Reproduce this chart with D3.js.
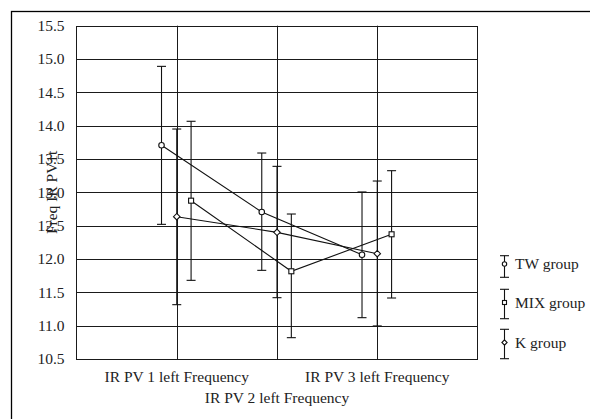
<!DOCTYPE html>
<html><head><meta charset="utf-8">
<script src="https://cdn.jsdelivr.net/npm/d3@7"></script>
<style>body{margin:0;background:#fff}svg{display:block}</style>
</head><body><svg id="c" width="590" height="419"></svg>
<script>
const categories = ["IR PV 1 left Frequency", "IR PV 2 left Frequency", "IR PV 3 left Frequency"];
const seriesNames = ["TW group", "MIX group", "K group"];
const twMean = [13.706, 12.706, 12.065];
const twLow = [12.52, 11.83, 11.12];
const twHigh = [14.89, 13.59, 13.006];
const mixMean = [12.875, 11.816, 12.371];
const mixLow = [11.68, 10.82, 11.415];
const mixHigh = [14.066, 12.675, 13.325];
const kMean = [12.635, 12.40, 12.08];
const kLow = [11.315, 11.42, 10.996];
const kHigh = [13.95, 13.39, 13.17];
const yTicks = [10.5, 11.0, 11.5, 12.0, 12.5, 13.0, 13.5, 14.0, 14.5, 15.0, 15.5];
const yLabel = "Freq IR PV1t";

const series = [
  {name: seriesNames[0], mean: twMean, low: twLow, high: twHigh, off: -0.152, sym: "circle"},
  {name: seriesNames[1], mean: mixMean, low: mixLow, high: mixHigh, off: 0.143, sym: "square"},
  {name: seriesNames[2], mean: kMean, low: kLow, high: kHigh, off: 0, sym: "diamond"}
];

const font = "Liberation Serif";
const fs = 15.5;
const svg = d3.select("#c");
const L = 76.5, R = 477.5, T = 25.7, B = 359;
const x = d3.scaleLinear().domain([0, 4]).range([L, R]);
const y = d3.scaleLinear().domain([10.5, 15.5]).range([B, T]);

// outer frame
svg.append("rect").attr("x", 11.5).attr("y", 11.5).attr("width", 700).attr("height", 600)
  .attr("fill", "none").attr("stroke", "#000").attr("stroke-width", 1.3);

// horizontal grid
svg.append("g").selectAll("line").data(yTicks).join("line")
  .attr("x1", L).attr("x2", R)
  .attr("y1", d => Math.round(y(d)) + 0.5).attr("y2", d => Math.round(y(d)) + 0.5)
  .attr("stroke", "#1a1a1a").attr("stroke-width", 1);
// vertical category lines
svg.append("g").selectAll("line").data(categories).join("line")
  .attr("x1", (d, i) => Math.round(x(i + 1)) + 0.5).attr("x2", (d, i) => Math.round(x(i + 1)) + 0.5)
  .attr("y1", T).attr("y2", B).attr("stroke", "#1a1a1a");
// plot border
svg.append("rect").attr("x", L).attr("y", Math.round(T) + 0.5).attr("width", R - L).attr("height", Math.round(B) - Math.round(T))
  .attr("fill", "none").attr("stroke", "#1a1a1a");

// y axis labels
const yAxis = d3.axisLeft(y).tickValues(yTicks).tickFormat(d3.format(".1f")).tickSize(0).tickPadding(12);
const ga = svg.append("g").attr("transform", `translate(${L},0)`).call(yAxis);
ga.select(".domain").remove();
ga.selectAll("text").attr("font-family", font).attr("font-size", fs).attr("fill", "#222");

// y title
svg.append("text").attr("transform", `translate(${56.5},${(T + B) / 2}) rotate(-90)`)
  .attr("text-anchor", "middle").attr("font-family", font).attr("font-size", fs).attr("fill", "#222")
  .text(yLabel);

// category labels
svg.append("g").selectAll("text").data(categories).join("text")
  .attr("x", (d, i) => x(i + 1)).attr("y", (d, i) => i === 1 ? 403 : 382)
  .attr("text-anchor", "middle").attr("font-family", font).attr("font-size", fs).attr("fill", "#222")
  .text(d => d);

function marker(g, sym, cx, cy, s) {
  if (sym === "circle") g.append("circle").attr("cx", cx).attr("cy", cy).attr("r", s * 0.55);
  else if (sym === "square") g.append("rect").attr("x", cx - s / 2).attr("y", cy - s / 2).attr("width", s).attr("height", s);
  else g.append("path").attr("d", `M${cx},${cy - s * 0.65}L${cx + s * 0.65},${cy}L${cx},${cy + s * 0.65}L${cx - s * 0.65},${cy}Z`);
}

series.forEach(s => {
  const g = svg.append("g").attr("stroke", "#111").attr("fill", "none").attr("stroke-width", 1.1);
  const px = i => x(i + 1 + s.off);
  // error bars
  s.mean.forEach((m, i) => {
    const cx = px(i);
    g.append("line").attr("x1", cx).attr("x2", cx).attr("y1", y(s.low[i])).attr("y2", y(s.high[i]));
    g.append("line").attr("x1", cx - 4.5).attr("x2", cx + 4.5).attr("y1", y(s.low[i])).attr("y2", y(s.low[i]));
    g.append("line").attr("x1", cx - 4.5).attr("x2", cx + 4.5).attr("y1", y(s.high[i])).attr("y2", y(s.high[i]));
  });
  g.append("path").attr("d", d3.line().x((d, i) => px(i)).y(d => y(d))(s.mean));
  s.mean.forEach((m, i) => marker(g.append("g").attr("fill", "#fff"), s.sym, px(i), y(m), 5));
});

// legend
const legY = [[255.7, 277.3, 264], [289.3, 318.7, 302.5], [329.3, 358.7, 342.5]];
series.forEach((s, k) => {
  const g = svg.append("g").attr("stroke", "#111").attr("fill", "none").attr("stroke-width", 1.1);
  const lx = 504.5, [t, b, c] = legY[k];
  g.append("line").attr("x1", lx).attr("x2", lx).attr("y1", t).attr("y2", b);
  g.append("line").attr("x1", lx - 4.5).attr("x2", lx + 4.5).attr("y1", t).attr("y2", t);
  g.append("line").attr("x1", lx - 4.5).attr("x2", lx + 4.5).attr("y1", b).attr("y2", b);
  marker(g.append("g").attr("fill", "#fff"), s.sym, lx, c, 4);
  svg.append("text").attr("x", 515).attr("y", c).attr("dy", "0.35em")
    .attr("font-family", font).attr("font-size", fs).attr("fill", "#222").text(s.name);
});
</script></body></html>
